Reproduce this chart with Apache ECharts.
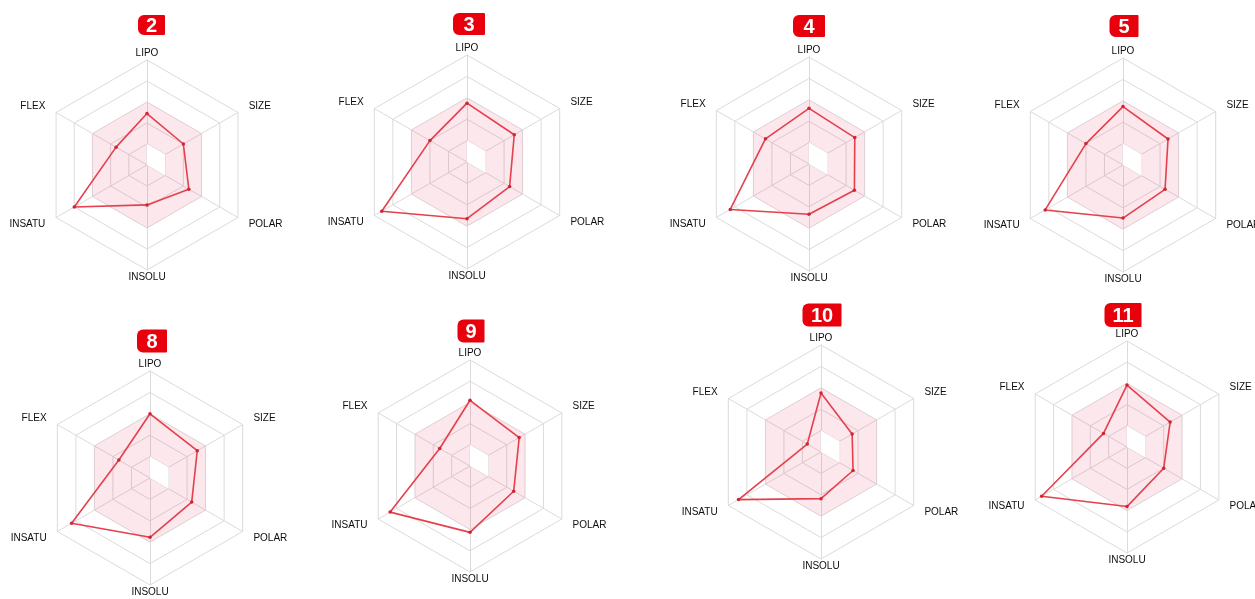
<!DOCTYPE html>
<html>
<head>
<meta charset="utf-8">
<style>
  html, body { margin: 0; padding: 0; background: #ffffff; }
  #chart { width: 1255px; height: 599px; }
</style>
<script src="https://cdn.jsdelivr.net/npm/echarts@6/dist/echarts.min.js"></script>
</head>
<body>
<div id="chart"></div>
<script>
// Bioavailability radar: six physicochemical properties per compound.
// Axes listed in drawing order (first at top, then counter-clockwise).
const AXES = ['LIPO', 'FLEX', 'INSATU', 'INSOLU', 'POLAR', 'SIZE'];
const AXIS_MAX = 5;

// Compound labels shown in the red badges
const COMPOUNDS = ['2', '3', '4', '5', '8', '9', '10', '11'];

// Property values per compound, same order as AXES
const C2  = [2.45, 1.70, 4.00, 1.90, 2.30, 2.00];
const C3  = [2.75, 2.00, 4.60, 2.65, 2.30, 2.55];
const C4  = [2.60, 2.35, 4.25, 2.35, 2.45, 2.47];
const C5  = [2.73, 2.00, 4.20, 2.48, 2.27, 2.43];
const C8  = [3.00, 1.68, 4.23, 2.77, 2.25, 2.55];
const C9  = [3.10, 1.65, 4.35, 3.13, 2.38, 2.68];
const C10 = [2.76, 0.74, 4.45, 2.18, 1.73, 1.68];
const C11 = [2.92, 1.28, 4.65, 2.81, 2.00, 2.35];
const VALUES = [C2, C3, C4, C5, C8, C9, C10, C11];

// Optimal property space (pink zone): outer and inner bounds, same order as AXES
const ZONE_OUTER = [3, 3, 3, 3, 3, 3];
const ZONE_INNER = [1, 0, 0, 0, 1, 1];

// Panel layout: radar centre, radius, badge centre and size
const LAYOUT = [
  { c: [147, 165],  r: 105, b: [151.5, 25], bw: 27, bh: 20 },
  { c: [467, 162],  r: 107, b: [469, 24],   bw: 32, bh: 22 },
  { c: [809, 164],  r: 107, b: [809, 26],   bw: 32, bh: 22 },
  { c: [1123, 165], r: 107, b: [1124, 26],  bw: 29, bh: 22 },
  { c: [150, 478],  r: 107, b: [152, 341],  bw: 30, bh: 23 },
  { c: [470, 466],  r: 106, b: [471, 331],  bw: 27, bh: 23 },
  { c: [821, 452],  r: 107, b: [822, 315],  bw: 39, bh: 23 },
  { c: [1127, 447], r: 106, b: [1123, 315], bw: 37, bh: 24 }
];

const GRID = '#dedadc';
const LINE_RED = '#e5404c';
const DOT_RED = '#cf2533';
const BADGE_RED = '#e8000c';

const NAME_STYLE = { FLEX: 'up', SIZE: 'up', INSATU: 'down', POLAR: 'down', LIPO: 'v', INSOLU: 'v' };

const radars = [];
const series = [];
const graphics = [];

LAYOUT.forEach((p, i) => {
  radars.push({
    center: p.c,
    radius: p.r,
    startAngle: 90,
    shape: 'polygon',
    splitNumber: 5,
    indicator: AXES.map(name => ({ name: name, min: 0, max: AXIS_MAX })),
    nameGap: 2,
    axisName: {
      color: '#0d0d0d',
      fontFamily: 'Liberation Sans, Arial, sans-serif',
      fontSize: 10,
      formatter: name => '{' + NAME_STYLE[name] + '|' + name + '}',
      rich: {
        up:   { padding: [0, 9, 11, 9] },
        down: { padding: [11, 9, 0, 9] },
        v:    {}
      }
    },
    axisLine: { lineStyle: { color: GRID, width: 1 } },
    splitLine: { lineStyle: { color: GRID, width: 1 } },
    splitArea: { show: false },
    axisTick: { show: false },
    axisLabel: { show: false }
  });

  // pink optimal zone
  series.push({
    type: 'radar', radarIndex: i, silent: true, symbol: 'none', z: 1,
    lineStyle: { width: 0, opacity: 0 },
    areaStyle: { color: 'rgba(225,70,110,0.13)', opacity: 1 },
    data: [{ value: ZONE_OUTER }]
  });
  // inner bound of the zone, left white
  series.push({
    type: 'radar', radarIndex: i, silent: true, symbol: 'none', z: 2,
    lineStyle: { color: GRID, width: 1 },
    areaStyle: { color: '#ffffff', opacity: 1 },
    data: [{ value: ZONE_INNER }]
  });
  // compound profile
  series.push({
    type: 'radar', radarIndex: i, silent: true, z: 3,
    symbol: 'circle', symbolSize: 3.5,
    itemStyle: { color: DOT_RED },
    lineStyle: { color: LINE_RED, width: 1.6 },
    data: [{ value: VALUES[i], name: COMPOUNDS[i] }]
  });

  // compound badge
  graphics.push({
    type: 'group',
    x: p.b[0], y: p.b[1],
    silent: true,
    children: [
      {
        type: 'rect',
        shape: { x: -p.bw / 2, y: -p.bh / 2, width: p.bw, height: p.bh, r: [6, 1, 1, 6] },
        style: { fill: BADGE_RED }
      },
      {
        type: 'text',
        x: 0, y: 1,
        style: {
          text: COMPOUNDS[i],
          fill: '#ffffff',
          font: 'bold 20px "Liberation Sans", Arial, sans-serif',
          align: 'center',
          verticalAlign: 'middle'
        }
      }
    ]
  });
});

const chart = echarts.init(document.getElementById('chart'), null, { renderer: 'canvas' });
chart.setOption({
  animation: false,
  backgroundColor: '#ffffff',
  radar: radars,
  series: series,
  graphic: graphics
});
</script>
</body>
</html>
